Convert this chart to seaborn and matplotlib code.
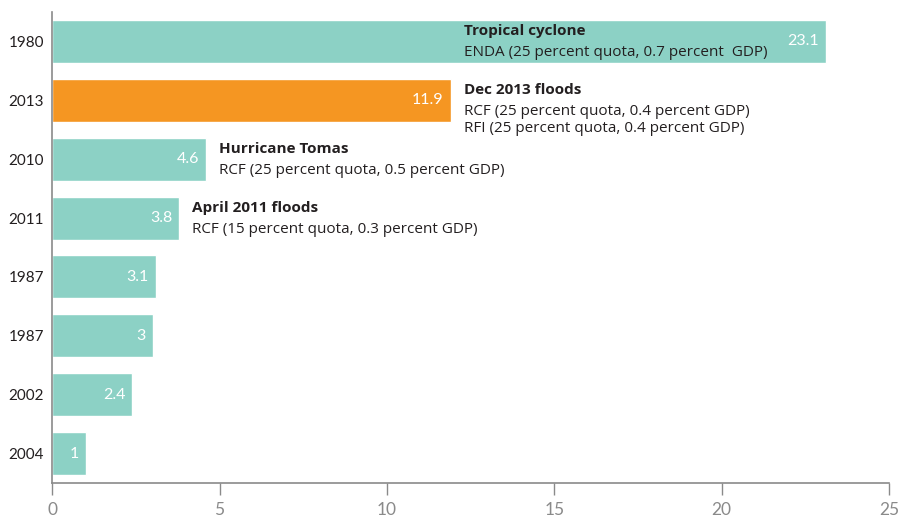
import pandas as pd
import matplotlib.pyplot as plt
import matplotlib.transforms as mtransforms
import seaborn as sns

# Данные
years = ['1980', '2013', '2010', '2011', '1987', '1987', '2002', '2004']
amounts = [23.1, 11.9, 4.6, 3.8, 3.1, 3.0, 2.4, 1.0]
highlight = [False, True, False, False, False, False, False, False]
value_labels = ['23.1', '11.9', '4.6', '3.8', '3.1', '3', '2.4', '1']

note_titles = ['Tropical cyclone', 'Dec 2013 floods', 'Hurricane Tomas', 'April 2011 floods']
note_lines = [
    ['ENDA (25 percent quota, 0.7 percent  GDP)'],
    ['RCF (25 percent quota, 0.4 percent GDP)', 'RFI (25 percent quota, 0.4 percent GDP)'],
    ['RCF (25 percent quota, 0.5 percent GDP)'],
    ['RCF (15 percent quota, 0.3 percent GDP)'],
]
xticks = [0, 5, 10, 15, 20, 25]

teal = '#8cd1c5'
orange = '#f59622'
dark = '#231f20'
grey = '#8a8a8a'

df = pd.DataFrame({
    'key': [f'{i}' for i in range(len(years))],
    'year': years,
    'amount': amounts,
    'group': ['hl' if h else 'base' for h in highlight],
})

sns.set_style('white')
plt.rcParams['font.family'] = ['Lato', 'DejaVu Sans']

fig = plt.figure(figsize=(8.99, 5.21), dpi=100)
ax = fig.add_axes([0.058, 0.073, 0.931, 0.904])

sns.barplot(data=df, y='key', x='amount', hue='group', orient='h',
            palette={'base': teal, 'hl': orange}, width=0.73,
            legend=False, dodge=False, saturation=1, ax=ax)

ax.set_xlim(0, 25)
ax.set_xticks(xticks)
ax.set_xticklabels([str(t) for t in xticks], color=grey, fontsize=12.5)
ax.set_yticks(range(len(years)))
ax.set_yticklabels(years, color=dark, fontsize=11)
ax.set_xlabel('')
ax.set_ylabel('')

for side in ['top', 'right']:
    ax.spines[side].set_visible(False)
for side in ['left', 'bottom']:
    ax.spines[side].set_color(grey)
    ax.spines[side].set_linewidth(1.2)
ax.tick_params(axis='x', length=8.5, width=1, color=grey, pad=5, direction='out', bottom=True)
ax.tick_params(axis='y', length=0, pad=6)

# Подписи значений внутри столбцов
for i, (v, lab) in enumerate(zip(amounts, value_labels)):
    tr = mtransforms.offset_copy(ax.transData, fig=fig, x=-7, y=0, units='dots')
    ax.text(v, i, lab, transform=tr, ha='right', va='center',
            color='white', fontsize=11.5)

# Аннотации к событиям
for i, (title, lines) in enumerate(zip(note_titles, note_lines)):
    anchor = amounts[i] if amounts[i] < 20 else amounts[1]
    tr = mtransforms.offset_copy(ax.transData, fig=fig, x=13, y=10, units='dots')
    ax.text(anchor, i, title, transform=tr, ha='left', va='center',
            color=dark, fontsize=11, fontweight='bold', family=['Open Sans', 'DejaVu Sans'])
    for j, line in enumerate(lines):
        tr = mtransforms.offset_copy(ax.transData, fig=fig, x=13, y=-11 - 17 * j, units='dots')
        ax.text(anchor, i, line, transform=tr, ha='left', va='center',
                color=dark, fontsize=11, family=['Open Sans', 'DejaVu Sans'])

fig.savefig('out.png', dpi=100)
